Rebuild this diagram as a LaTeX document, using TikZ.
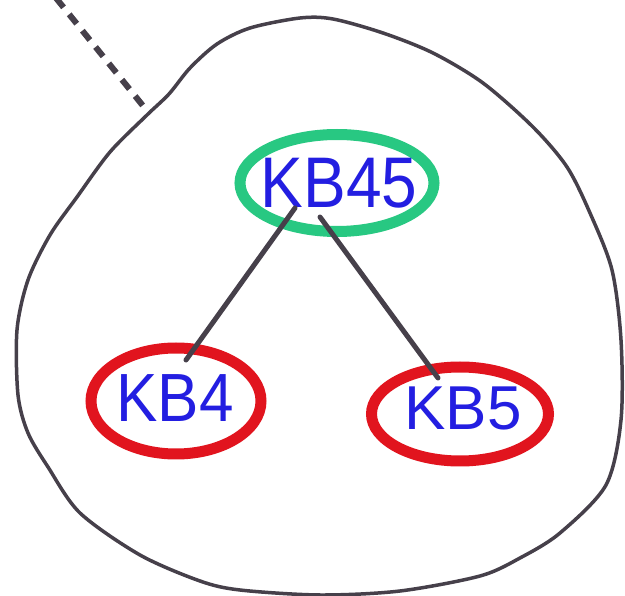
\documentclass[tikz,border=0pt]{standalone}
\usepackage{fontspec}
\setmainfont{Liberation Sans}
\usetikzlibrary{shapes.geometric,calc}
\definecolor{penblue}{RGB}{35,30,225}
\definecolor{penred}{RGB}{225,20,30}
\definecolor{pengreen}{RGB}{40,200,130}
\definecolor{pengrey}{RGB}{70,64,74}
\tikzset{
  ring/.style={ellipse, draw, line width=11pt, text=penblue, inner sep=0pt,
    font=\fontsize{62}{62}\selectfont},
  outline/.style={draw=pengrey, line width=3.5pt, line cap=round, line join=round},
  link/.style={draw=pengrey, line width=5pt, line cap=round},
  dashlink/.style={draw=pengrey, line width=6pt, dash pattern=on 12pt off 9pt}
}
\begin{document}
\begin{tikzpicture}[x=1pt,y=-1pt]
\useasboundingbox (0,0) rectangle (625,596);
\fill[white] (0,0) rectangle (625,596);
% outer blob
\draw[outline] plot[smooth cycle, tension=0.5] coordinates {
  (147,115) (169,94) (190,68) (217,44) (250,28) (300,18) (333,19) (383,33)
  (433,53) (483,83) (533,127) (567,167) (590,213) (612,270) (621,340)
  (621,420) (606,485) (560,533) (520,558) (480,576) (400,591) (320,595)
  (240,590) (200,581) (140,555) (80,513) (48,467) (28,433) (18,395)
  (17,330) (28,280) (50,235) (77,197) (110,152)};
% dashed line from above
\coordinate (dtop) at (56,-2);
\coordinate (dend) at (148,112);
\draw[dashlink] (dtop) -- (dend);
% nodes
\node[ring, draw=pengreen, minimum width=194pt, minimum height=97pt] (kb45) at (337,183) {};
\node[text=penblue, font=\fontsize{64}{64}\selectfont] (t45) at (339,183) {\scalebox{1}[1.12]{KB45}};
\node[ring, draw=penred, minimum width=170pt, minimum height=106pt] (kb4) at (176,401) {};
\node[text=penblue, font=\fontsize{62}{62}\selectfont] (t4) at (175,398) {\scalebox{1}[1.1]{KB4}};
\node[ring, draw=penred, minimum width=177pt, minimum height=94pt] (kb5) at (460,414) {};
\node[text=penblue, font=\fontsize{62}{62}\selectfont] (t5) at (463,408) {KB5};
% connectors
\draw[link] ($(kb45.center)+(-42,25)$) -- ($(kb4.center)+(10,-41)$);
\draw[link] ($(kb45.center)+(-17,34)$) -- ($(kb5.center)+(-22,-36)$);
\end{tikzpicture}
\end{document}
